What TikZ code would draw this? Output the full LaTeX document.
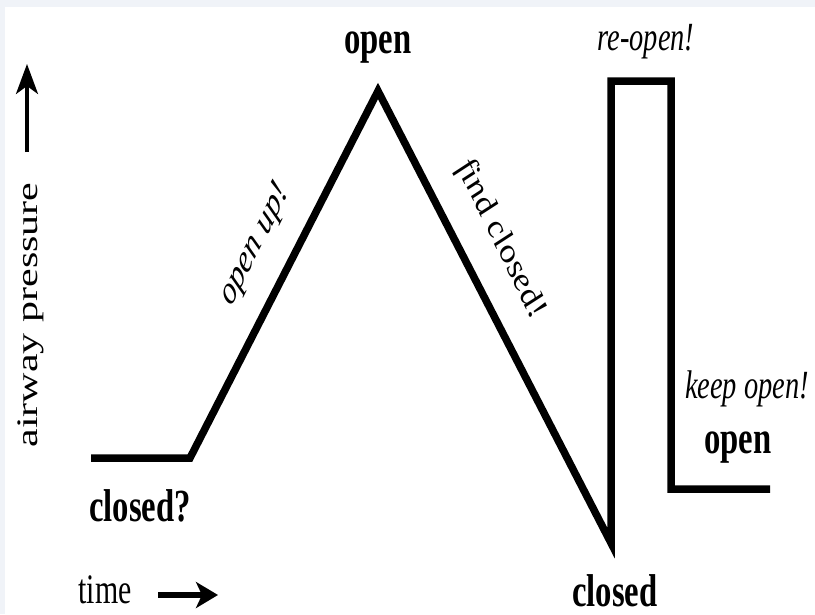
\documentclass[tikz,border=0pt]{standalone}
\usepackage{fontspec}
\setmainfont{Liberation Serif}
\usetikzlibrary{arrows.meta}
\definecolor{edgebg}{RGB}{240,243,248}
\newcommand\sqzlabel[6]{%
  \begin{scope}[shift={(#1,#2)},xscale=0.71]
    \node[transform shape,rotate=#3,inner sep=0pt,#5] (#4) {#6};
  \end{scope}}
\tikzset{
  curve/.style={line width=7.5pt,line join=miter,miter limit=10},
  boldlbl/.style={font=\bfseries\fontsize{46}{46}\selectfont},
  itlbl/.style={font=\itshape\fontsize{40}{40}\selectfont},
  plainlbl/.style={font=\fontsize{42}{42}\selectfont},
  yaxis/.style={line width=3.5pt,-{Stealth[length=30pt,width=22pt,inset=8pt]}},
  taxis/.style={line width=6pt,-{Stealth[length=22pt,width=26pt,inset=6pt]}}
}
\begin{document}
\begin{tikzpicture}[x=1pt,y=1pt]
\useasboundingbox (0,0) rectangle (815,-614);
\fill[edgebg] (0,0) rectangle (815,-614);
\fill[white] (5,-7) rectangle (815,-614);

% pressure curve
\coordinate (A) at (91,-458);
\coordinate (B) at (190,-458);
\coordinate (P) at (378,-91);
\coordinate (V) at (611,-543);
\coordinate (R1) at (611,-81);
\coordinate (R2) at (671,-81);
\coordinate (R3) at (671,-489);
\coordinate (E) at (770,-489);
\draw[curve] (A) -- (B) -- (P) -- (V) -- (R1) -- (R2) -- (R3) -- (E);

% axes arrows
\coordinate (ya) at (27,-152);
\coordinate (yb) at (27,-64);
\draw[yaxis] (ya) -- (yb);
\coordinate (ta) at (158,-595);
\coordinate (tb) at (218,-595);
\draw[taxis] (ta) -- (tb);

% labels
\sqzlabel{378}{-53}{0}{openTop}{boldlbl,anchor=base}{open}
\sqzlabel{140}{-521}{0}{closedQ}{boldlbl,anchor=base}{closed?}
\sqzlabel{615}{-606}{0}{closedB}{boldlbl,anchor=base}{closed}
\sqzlabel{738}{-453}{0}{openR}{boldlbl,anchor=base}{open}
\sqzlabel{747}{-398}{0}{keepOpen}{itlbl,anchor=base}{keep open!}
\sqzlabel{646}{-50}{0}{reOpen}{itlbl,anchor=base}{re-open!}
\sqzlabel{105}{-603}{0}{time}{plainlbl,anchor=base}{time}
\sqzlabel{37}{-315}{90}{pressure}{plainlbl,anchor=base}{airway pressure}
\sqzlabel{255}{-245}{54.8}{openUp}{itlbl}{open up!}
\sqzlabel{501}{-240}{-55.3}{findClosed}{itlbl}{find closed!}
\end{tikzpicture}
\end{document}
